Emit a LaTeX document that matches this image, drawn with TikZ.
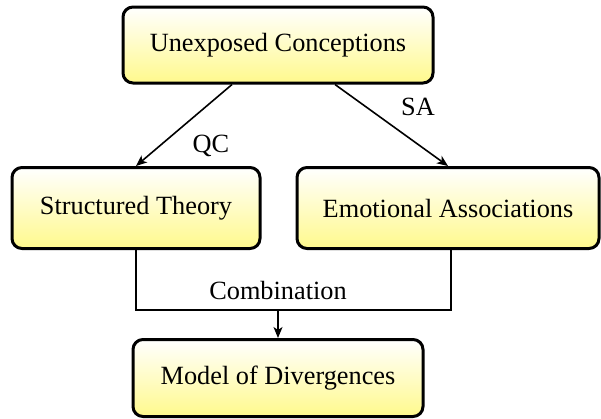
\documentclass[tikz,border=0pt]{standalone}
\usepackage{fontspec}
\setmainfont{Liberation Serif}
\usetikzlibrary{arrows.meta,calc}
\tikzset{
  box/.style={draw=black, line width=3pt, rounded corners=10pt,
    top color=white, bottom color={rgb,255:red,255;green,249;blue,140},
    minimum width=#1, inner sep=0pt, font=\fontsize{26.3}{30}\selectfont},
  conn/.style={draw=black, line width=1.6pt},
  arr/.style={conn, -{Stealth[length=11pt,width=9pt,inset=3pt]}},
  lbl/.style={font=\fontsize{26.3}{30}\selectfont, inner sep=0pt}
}
\begin{document}
\begin{tikzpicture}[x=1pt,y=-1pt]
\useasboundingbox (0,0) rectangle (601,418);
\node[box=310pt, minimum height=76pt] (top) at (278,45) {Unexposed Conceptions};
\node[box=248pt, minimum height=81pt] (st) at (136,208) {Structured Theory};
\node[box=302pt, minimum height=81pt] (ea) at (448,208) {Emotional Associations};
\node[box=290pt, minimum height=77pt] (md) at (278,378) {Model of Divergences};
\coordinate (ls) at ($(top.south)+(-46,0)$);
\coordinate (rs) at ($(top.south)+(57,0)$);
\draw[arr] (ls) -- (st.north);
\draw[arr] (rs) -- (ea.north);
\node[lbl] (qc) at (211,146) {QC};
\node[lbl] (sa) at (418,107) {SA};
\coordinate (jl) at (136,310);
\coordinate (jr) at (451,310);
\coordinate (jm) at (278,310);
\draw[conn] (st.south) -- (jl) -- (jr) -- (ea.south -| jr);
\draw[arr] (jm) -- (md.north);
\node[lbl] (comb) at (278,290) {Combination};
\end{tikzpicture}
\end{document}
